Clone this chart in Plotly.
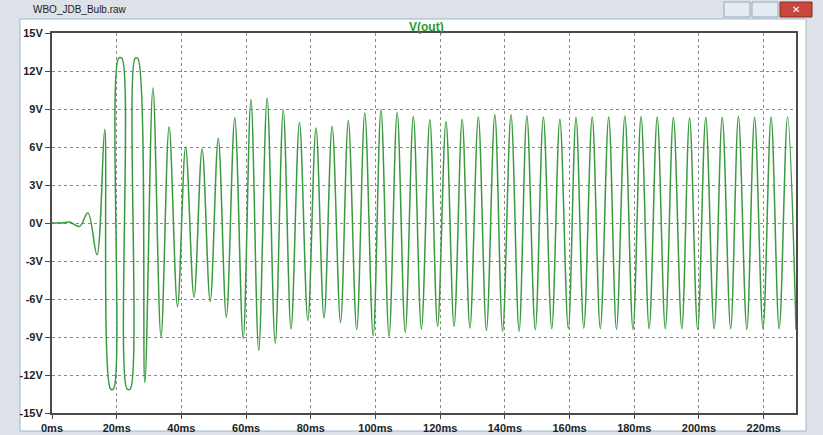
import plotly.graph_objects as go

# ---- data (extrema of V(out)) ----
time_ms = [0, 3.0, 5.5, 8.5, 11.1, 13.9, 16.3, 18.1, 19.0, 20.6, 21.6, 23.2, 24.2, 25.7, 26.5,
           28.7, 31.2, 33.7, 36.2, 38.8, 41.3, 43.9, 46.4, 48.9, 51.4, 53.9, 56.5, 59.1, 61.5,
           63.9, 66.5, 69.0, 71.5, 73.9, 76.5, 79.1, 81.6, 84.1, 86.6, 89.2, 91.6, 94.2, 96.7,
           99.3, 101.7, 104.2, 106.7, 109.2, 111.7, 114.2, 116.8, 119.2, 121.8, 124.3, 126.8,
           129.2, 131.8, 134.3, 136.9, 139.3, 141.9, 144.4, 146.8, 149.4, 151.9, 154.5, 157.0,
           159.6, 162.0, 164.4, 167.0, 169.5, 172.1, 174.5, 177.1, 179.6, 182.1, 184.6, 187.1,
           189.6, 192.1, 194.7, 197.1, 199.6, 202.1, 204.7, 207.2, 209.8, 212.2, 214.8, 217.2,
           219.8, 222.3, 224.8, 227.4, 230.0]
v_out = [0.0, 0.0, 0.08, -0.27, 0.8, -2.5, 7.4, -13.1, -13.1, 13.0, 13.0, -13.1, -13.1, 13.0, 13.0,
         -12.6, 10.65, -9.0, 7.6, -6.6, 6.0, -5.85, 5.85, -6.2, 6.7, -7.45, 8.3, -9.1, 9.75,
         -10.05, 9.85, -9.47, 8.9, -8.37, 7.94, -7.69, 7.5, -7.5, 7.62, -7.85, 8.1, -8.42, 8.68,
         -8.9, 8.94, -8.95, 8.73, -8.63, 8.41, -8.37, 8.15, -8.16, 8.02, -8.16, 8.2,
         -8.29, 8.37, -8.48, 8.55, -8.55, 8.55, -8.55, 8.47, -8.42, 8.37, -8.35, 8.2,
         -8.35, 8.35, -8.3, 8.37, -8.35, 8.37, -8.4, 8.45, -8.4, 8.4, -8.35, 8.37,
         -8.35, 8.35, -8.35, 8.3, -8.4, 8.35, -8.35, 8.35, -8.35, 8.4, -8.4, 8.35,
         -8.35, 8.37, -8.35, 8.37, -8.4]

y_ticks = [-15, -12, -9, -6, -3, 0, 3, 6, 9, 12, 15]
y_tick_labels = [f"{v}V" for v in y_ticks]
x_ticks = [0, 20, 40, 60, 80, 100, 120, 140, 160, 180, 200, 220]
x_tick_labels = [f"{v}ms" for v in x_ticks]
trace_name = "V(out)"
window_title = "WBO_JDB_Bulb.raw"

W, H = 823, 435
L, R, T, B = 52, 27, 33, 22
pw, ph = W - L - R, H - T - B


def px(x):
    return (x - L) / pw


def py(y):
    return (H - B - y) / ph


fig = go.Figure()
fig.add_trace(go.Scatter(
    x=time_ms, y=v_out, mode="lines", name=trace_name,
    line=dict(color="#3a9a3e", width=1.5, shape="spline", smoothing=1.0),
    hoverinfo="x+y", showlegend=False,
))

tick_font = dict(family="Liberation Sans, Arial, sans-serif", size=11, color="#1e1e1e", weight="bold")

fig.update_xaxes(
    range=[0, 230], tickvals=x_ticks, ticktext=x_tick_labels, tickfont=tick_font,
    showgrid=True, gridcolor="#8a8a8a", griddash="dot", gridwidth=1,
    showline=True, linecolor="#4a4a4a", linewidth=2, mirror=True,
    ticks="outside", ticklen=4, tickcolor="#4a4a4a", zeroline=False, automargin=False,
)
fig.update_yaxes(
    range=[-15, 15], tickvals=y_ticks, ticktext=y_tick_labels, tickfont=tick_font,
    showgrid=True, gridcolor="#8a8a8a", griddash="dot", gridwidth=1,
    showline=True, linecolor="#4a4a4a", linewidth=2, mirror=True,
    ticks="outside", ticklen=5, tickcolor="#4a4a4a", zeroline=False, automargin=False,
)

shapes = []
# white window client area
shapes.append(dict(type="rect", xref="paper", yref="paper", layer="below",
                   x0=px(20), x1=px(806), y0=py(19), y1=py(431),
                   fillcolor="white", line=dict(color="#9fb6cc", width=1)))
# close button
shapes.append(dict(type="rect", xref="paper", yref="paper",
                   x0=px(780), x1=px(812), y0=py(2), y1=py(17),
                   fillcolor="#c9463d", line=dict(color="#8a2b25", width=1)))
# max / min buttons
shapes.append(dict(type="rect", xref="paper", yref="paper",
                   x0=px(752), x1=px(778), y0=py(2), y1=py(17),
                   fillcolor="#e4ebf2", line=dict(color="#98a8b8", width=1)))
shapes.append(dict(type="rect", xref="paper", yref="paper",
                   x0=px(724), x1=px(750), y0=py(2), y1=py(17),
                   fillcolor="#e4ebf2", line=dict(color="#98a8b8", width=1)))

annotations = [
    dict(text=trace_name, xref="paper", yref="paper", x=0.503, y=py(27), showarrow=False,
         font=dict(family="Liberation Sans, Arial, sans-serif", size=12, color="#2e9a2e", weight="bold"),
         xanchor="center", yanchor="middle"),
    dict(text=window_title, xref="paper", yref="paper", x=px(31), y=py(10), showarrow=False,
         font=dict(family="Liberation Sans, Arial, sans-serif", size=10, color="#222"),
         xanchor="left", yanchor="middle"),
    dict(text="<b>✕</b>", xref="paper", yref="paper", x=px(796), y=py(9.5), showarrow=False,
         font=dict(family="DejaVu Sans", size=10, color="white"), xanchor="center", yanchor="middle"),
]

fig.update_layout(
    width=W, height=H,
    margin=dict(l=L, r=R, t=T, b=B, pad=0),
    paper_bgcolor="#dde2e8", plot_bgcolor="white",
    shapes=shapes, annotations=annotations,
)

fig.write_html("out.html", config={"displayModeBar": False},
               post_script="document.body.style.margin='0';document.body.style.overflow='hidden';")
